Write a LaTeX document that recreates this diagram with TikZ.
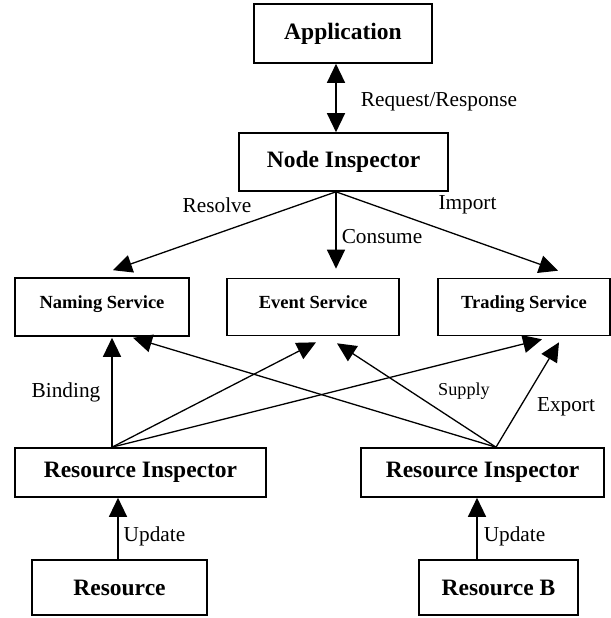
\documentclass[tikz,border=0pt]{standalone}
\usepackage{fontspec}
\setmainfont{Liberation Serif}
\usetikzlibrary{arrows.meta}
\begin{document}
\begin{tikzpicture}[x=1bp,y=-1bp,
 box/.style={draw, line width=1.6bp, inner sep=0pt, font=\bfseries\fontsize{23.5bp}{28bp}\selectfont},
 svc/.style={box, font=\bfseries\fontsize{18.5bp}{22bp}\selectfont, text height=14bp, text depth=12bp},
 conn/.style={line width=1.3bp, -{Triangle[length=19bp,width=18bp]}},
 lbl/.style={font=\fontsize{21.3bp}{25bp}\selectfont, inner sep=0pt}]
\useasboundingbox (0,0) rectangle (611,618);
% boxes
\node[box, minimum width=178bp, minimum height=59bp] (app) at (343,33.5) {Application};
\node[box, minimum width=209bp, minimum height=58bp] (ni) at (343.5,162) {Node Inspector};
\node[svc, minimum width=174bp, minimum height=58bp] (nam) at (102,307) {Naming Service};
\node[svc, minimum width=172bp, minimum height=57bp] (evt) at (313,307) {Event Service};
\node[svc, minimum width=172bp, minimum height=57bp] (trd) at (524,307) {Trading Service};
\node[box, minimum width=251bp, minimum height=49bp] (lri) at (140.5,472.5) {Resource Inspector};
\node[box, minimum width=243bp, minimum height=49bp] (rri) at (482.5,472.5) {Resource Inspector};
\node[box, minimum width=175bp, minimum height=55bp] (res) at (119.5,587.5) {Resource};
\node[box, minimum width=159bp, minimum height=55bp] (resb) at (498.5,587.5) {Resource B};
% connection points
\coordinate (nis) at ([shift={(-7.5,0)}]ni.south);
\coordinate (lris) at ([shift={(-28.5,0)}]lri.north);
\coordinate (rris) at ([shift={(13.5,0)}]rri.north);
% arrows
\draw[conn, {Triangle[length=19bp,width=18bp]}-{Triangle[length=19bp,width=18bp]}]
  ([shift={(-7,0)}]app.south) -- ([shift={(-7.5,0)}]ni.north);
\draw[conn] (nis) -- ([shift={(11,-7)}]nam.north);
\draw[conn] (nis) -- ([shift={(23,-9)}]evt.north);
\draw[conn] (nis) -- ([shift={(34,-7)}]trd.north);
\draw[conn] (lris) -- ([shift={(10,1)}]nam.south);
\draw[conn] (lris) -- ([shift={(3,6)}]evt.south);
\draw[conn] (lris) -- ([shift={(18,3)}]trd.south);
\draw[conn] (rris) -- ([shift={(31,1)}]nam.south);
\draw[conn] (rris) -- ([shift={(24,7)}]evt.south);
\draw[conn] (rris) -- ([shift={(35,6)}]trd.south);
\draw[conn] ([shift={(-1.5,0)}]res.north) -- ([shift={(-1.5,0)}]res.north |- lri.south);
\draw[conn] ([shift={(-21.5,0)}]resb.north) -- ([shift={(-21.5,0)}]resb.north |- rri.south);
% labels
\node[lbl] (l1) at (439,102) {Request/Response};
\node[lbl] (l2) at (217,205) {Resolve};
\node[lbl] (l3) at (382,237) {Consume};
\node[lbl] (l4) at (467.5,205) {Import};
\node[lbl] (l5) at (66,392) {Binding};
\node[lbl, font=\fontsize{18.2bp}{22bp}\selectfont] (l6) at (464,391) {Supply};
\node[lbl] (l7) at (566,407) {Export};
\node[lbl] (l8) at (154.5,536) {Update};
\node[lbl] (l9) at (514.5,536) {Update};
\end{tikzpicture}
\end{document}
